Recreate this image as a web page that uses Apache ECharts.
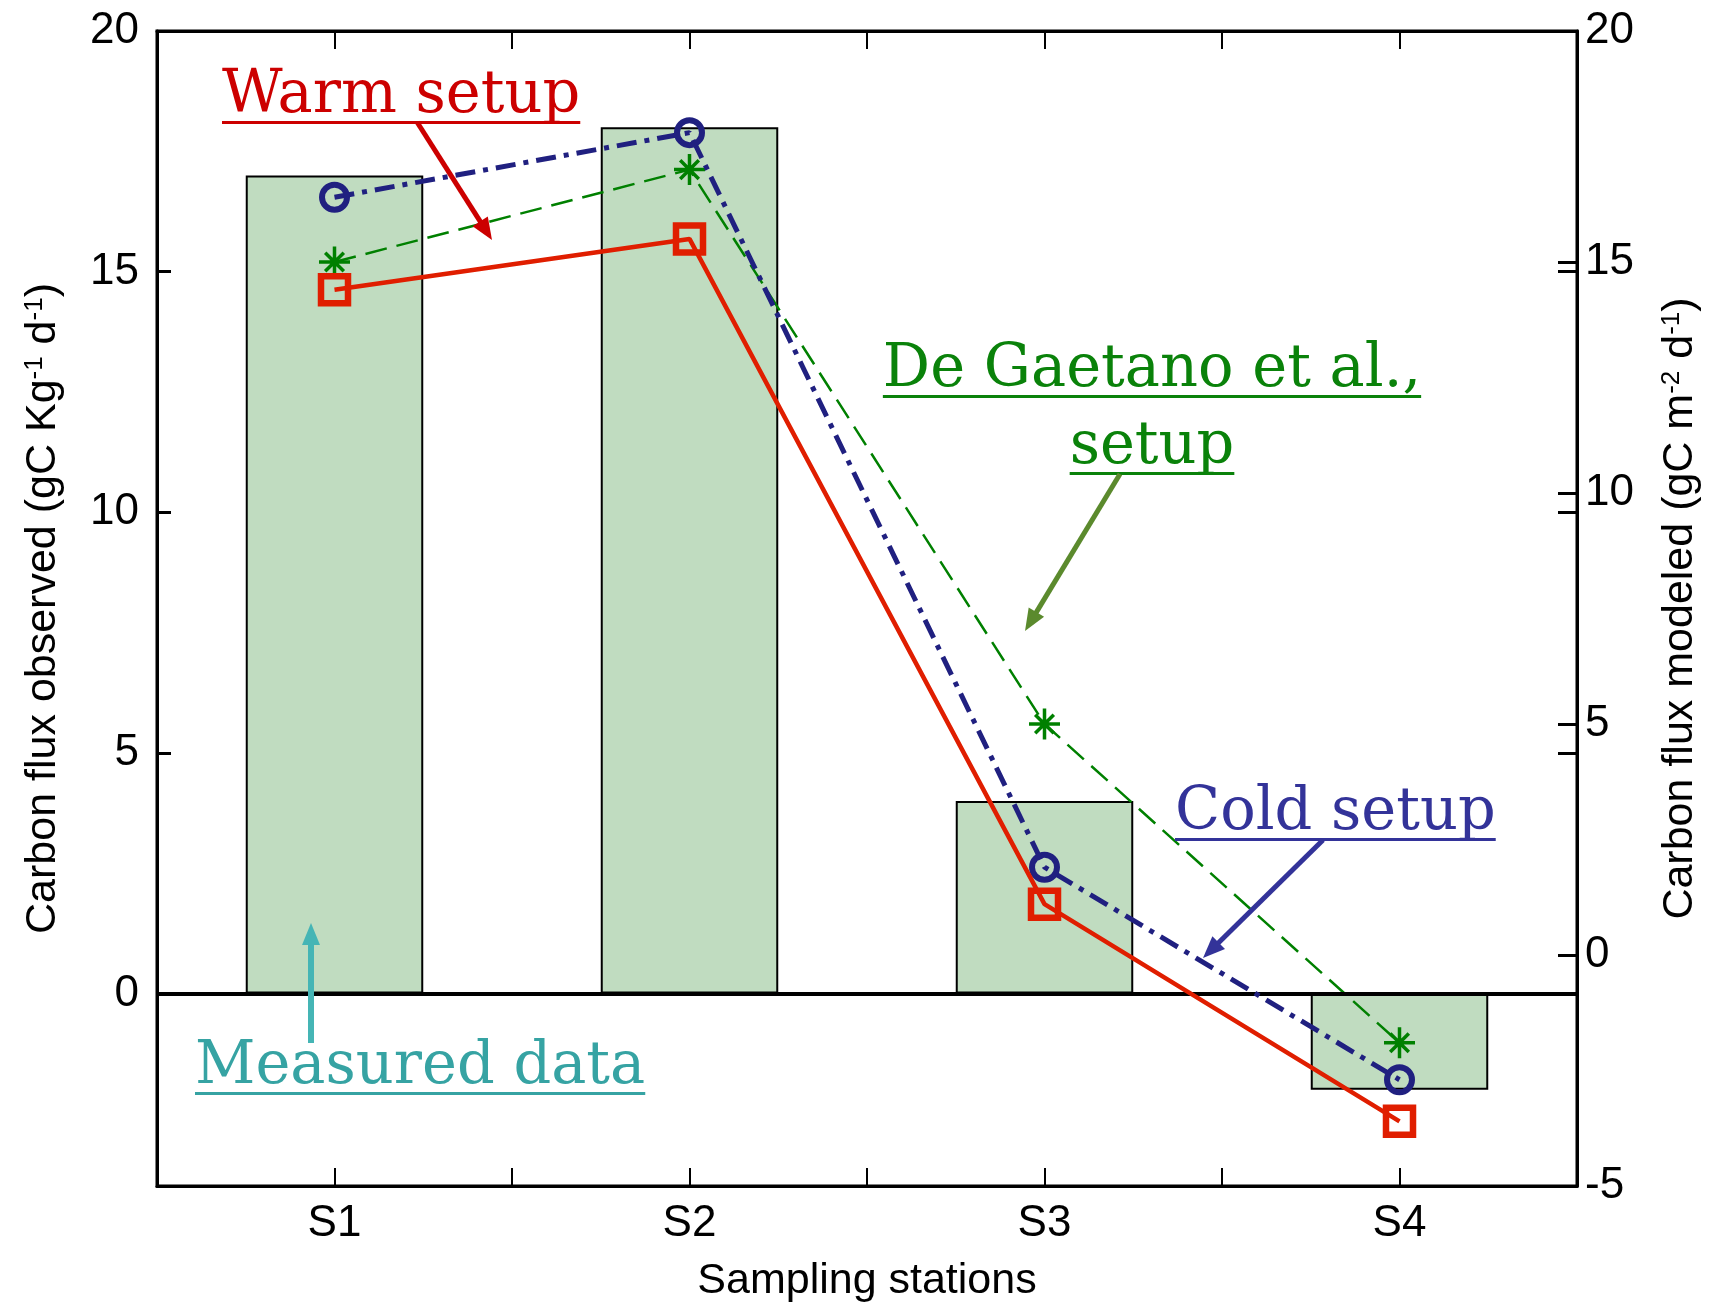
<!DOCTYPE html>
<html><head><meta charset="utf-8">
<script src="https://cdn.jsdelivr.net/npm/echarts@6/dist/echarts.min.js"></script>
<style>html,body{margin:0;padding:0;background:#fff}#c{width:1714px;height:1308px}</style>
</head><body><div id="c"></div>
<script>
// ---- data ----
const stations = ['S1', 'S2', 'S3', 'S4'];
const measuredData = [17, 18, 4, -2];            // left axis (observed)
const coldSetup = [16.4, 17.8, 1.9, -2.7];        // right axis (modeled)
const deGaetanoSetup = [15.0, 17.0, 5.0, -1.9];
const warmSetup = [14.4, 15.5, 1.1, -3.6];
const leftTicks = [0, 5, 10, 15, 20];

// ---- styles ----
const TICK_FONT = '"Liberation Sans Narrow", "Liberation Sans", Arial, sans-serif';
const NAME_FONT = '"Liberation Sans", Arial, sans-serif';
const ANN_FAMILY = '"DejaVu Serif", serif';
const ANN_SIZE = 59;
const TICK_SIZE = 44;
const BLACK = '#000';

const chart = echarts.init(document.getElementById('c'), null, {renderer: 'canvas'});

function catAxis(pos, centerTicks, withLabels) {
  return {
    type: 'category', data: stations, position: pos,
    axisLine: {show: centerTicks, onZero: false, lineStyle: {color: BLACK, width: 3}},
    axisTick: {show: true, inside: true, alignWithLabel: centerTicks, length: 18, lineStyle: {color: BLACK, width: 2}},
    axisLabel: withLabels ? {show: true, margin: 16, fontFamily: TICK_FONT, fontSize: TICK_SIZE, color: BLACK} : {show: false},
    splitLine: {show: false}
  };
}

const xAxes = [
  Object.assign(catAxis('bottom', true, true), {
    name: 'Sampling stations', nameLocation: 'middle', nameGap: 74,
    nameTextStyle: {fontFamily: NAME_FONT, fontSize: 43, color: BLACK}
  }),
  catAxis('bottom', false, false),
  catAxis('top', true, false),
  catAxis('top', false, false)
];

const supRich = {sup: {fontFamily: NAME_FONT, fontSize: 26, color: BLACK, verticalAlign: 'top'}};

const yAxes = [
  {
    type: 'value', position: 'left', min: -4, max: 20,
    axisLine: {show: true, onZero: false, lineStyle: {color: BLACK, width: 3}},
    axisTick: {show: true, inside: true, length: 14, customValues: leftTicks, lineStyle: {color: BLACK, width: 3}},
    axisLabel: {show: true, customValues: leftTicks, margin: 18, fontFamily: TICK_FONT, fontSize: TICK_SIZE, color: BLACK},
    splitLine: {show: false},
    name: 'Carbon flux observed (gC Kg{sup|-1} d{sup|-1})',
    nameLocation: 'middle', nameRotate: 90, nameGap: 92,
    nameTextStyle: {fontFamily: NAME_FONT, fontSize: 43, color: BLACK, rich: supRich}
  },
  {
    type: 'value', position: 'right', min: -5, max: 20, interval: 5,
    axisLine: {show: true, onZero: false, lineStyle: {color: BLACK, width: 3}},
    axisTick: {show: true, inside: true, length: 19, lineStyle: {color: BLACK, width: 3}},
    axisLabel: {show: true, margin: 8, fontFamily: TICK_FONT, fontSize: TICK_SIZE, color: BLACK},
    splitLine: {show: false},
    name: 'Carbon flux modeled (gC m{sup|-2} d{sup|-1})',
    nameLocation: 'middle', nameRotate: 90, nameGap: 82,
    nameTextStyle: {fontFamily: NAME_FONT, fontSize: 43, color: BLACK, rich: supRich}
  },
  {
    type: 'value', position: 'right', min: -4, max: 20,
    axisLine: {show: false, onZero: false},
    axisTick: {show: true, inside: true, length: 19, customValues: leftTicks, lineStyle: {color: BLACK, width: 3}},
    axisLabel: {show: false},
    splitLine: {show: false}
  }
];

// ---- annotations ----
const measureCtx = document.createElement('canvas').getContext('2d');
function textW(str) { measureCtx.font = ANN_SIZE + 'px ' + ANN_FAMILY; return measureCtx.measureText(str).width; }

const annotations = [
  {text: 'Warm setup', color: '#cc0000', left: 222, baseline: 117},
  {text: 'De Gaetano et al.,', color: '#0a820a', center: 1152, baseline: 391},
  {text: 'setup', color: '#0a820a', center: 1152, baseline: 468},
  {text: 'Cold setup', color: '#333399', left: 1175, baseline: 834},
  {text: 'Measured data', color: '#36a3a3', left: 195, baseline: 1088}
];
const arrows = [
  {from: [417, 122], to: [492, 240], color: '#cc0000', w: 5},
  {from: [1120, 474], to: [1025, 631], color: '#5b8a2d', w: 5},
  {from: [1323, 840], to: [1203, 958], color: '#333399', w: 5},
  {from: [311, 1043], to: [311, 923], color: '#45b5b5', w: 6}
];

const graphics = [];
annotations.forEach(a => {
  const w = textW(a.text);
  const x0 = a.left !== undefined ? a.left : a.center - w / 2;
  graphics.push({
    type: 'text', x: x0, y: a.baseline - 0.346 * ANN_SIZE, z: 100,
    style: {text: a.text, fill: a.color, font: ANN_SIZE + 'px ' + ANN_FAMILY,
      textAlign: 'left', align: 'left', textVerticalAlign: 'middle', verticalAlign: 'middle'}
  });
  graphics.push({
    type: 'rect', z: 100,
    shape: {x: x0, y: a.baseline + 4, width: w, height: 3},
    style: {fill: a.color}
  });
});
arrows.forEach(a => {
  const [x1, y1] = a.from, [x2, y2] = a.to;
  const dx = x2 - x1, dy = y2 - y1, L = Math.hypot(dx, dy), ux = dx / L, uy = dy / L;
  const hl = 22, hw = 18;
  const bx = x2 - ux * hl, by = y2 - uy * hl, px = -uy, py = ux;
  graphics.push({type: 'line', z: 100, shape: {x1: x1, y1: y1, x2: bx + ux * 2, y2: by + uy * 2},
    style: {stroke: a.color, lineWidth: a.w}});
  graphics.push({type: 'polygon', z: 100,
    shape: {points: [[x2, y2], [bx + px * hw / 2, by + py * hw / 2], [bx - px * hw / 2, by - py * hw / 2]]},
    style: {fill: a.color}});
});

const option = {
  animation: false,
  backgroundColor: '#fff',
  grid: {left: 157, right: 137, top: 31, bottom: 120, show: true, borderColor: BLACK, borderWidth: 3, backgroundColor: 'transparent'},
  xAxis: xAxes,
  yAxis: yAxes,
  series: [
    {
      name: 'Measured data', type: 'bar', xAxisIndex: 0, yAxisIndex: 0,
      data: measuredData, barWidth: '50%', z: 2,
      itemStyle: {color: '#c0dcc0', borderColor: BLACK, borderWidth: 2},
      markLine: {
        silent: true, symbol: ['none', 'none'], label: {show: false},
        lineStyle: {color: BLACK, width: 4, type: 'solid'},
        data: [{yAxis: 0}]
      }
    },
    {
      name: 'De Gaetano et al., setup', type: 'line', xAxisIndex: 0, yAxisIndex: 1,
      data: deGaetanoSetup, z: 4,
      symbol: 'path://M0,-10L0,10M-10,0L10,0M-6,-6L6,6M-6,6L6,-6', symbolSize: 31,
      lineStyle: {color: '#008000', width: 2.5, type: [22, 10]},
      itemStyle: {color: 'rgba(0,0,0,0)', borderColor: '#008000', borderWidth: 3.5}
    },
    {
      name: 'Cold setup', type: 'line', xAxisIndex: 0, yAxisIndex: 1,
      data: coldSetup, z: 5,
      symbol: 'circle', symbolSize: 25,
      lineStyle: {color: '#202080', width: 5, type: [20, 8, 5, 8]},
      itemStyle: {color: 'rgba(0,0,0,0)', borderColor: '#202080', borderWidth: 6}
    },
    {
      name: 'Warm setup', type: 'line', xAxisIndex: 0, yAxisIndex: 1,
      data: warmSetup, z: 6,
      symbol: 'rect', symbolSize: 27,
      lineStyle: {color: '#e01e00', width: 4.5, type: 'solid'},
      itemStyle: {color: 'rgba(0,0,0,0)', borderColor: '#e01e00', borderWidth: 6.5}
    }
  ],
  graphic: graphics
};
chart.setOption(option);
</script>
</body></html>
